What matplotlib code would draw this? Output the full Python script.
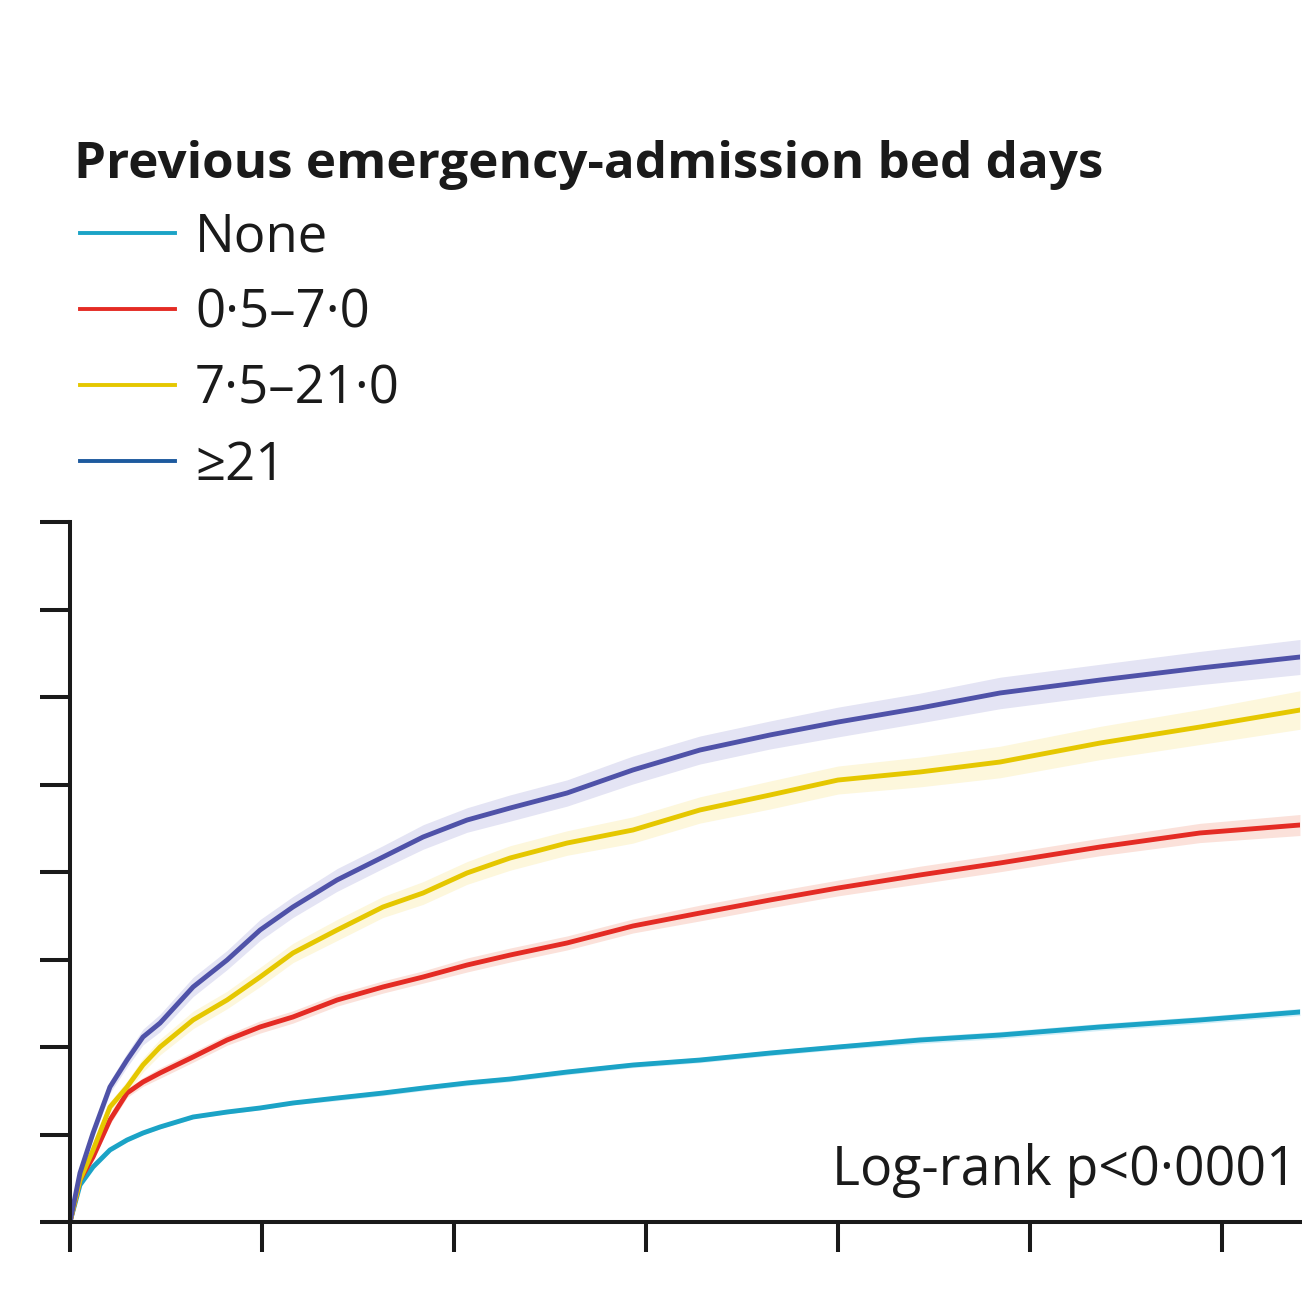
import matplotlib
matplotlib.use("Agg")
import matplotlib.pyplot as plt
from matplotlib.lines import Line2D
import numpy as np

plt.rcParams["font.family"] = ["Open Sans", "DejaVu Sans"]

# time grid (units of one x tick) and cumulative incidence (units of one y tick)
t = [0, 0.052, 0.120, 0.208, 0.297, 0.380, 0.469, 0.641, 0.818, 0.990,
     1.161, 1.391, 1.630, 1.839, 2.068, 2.292, 2.589, 2.932, 3.281, 3.646,
     4.000, 4.427, 4.844, 5.365, 5.885, 6.406]

none_vals = [0, 0.423, 0.629, 0.823, 0.937, 1.017, 1.086, 1.200, 1.257, 1.303,
             1.360, 1.417, 1.474, 1.531, 1.589, 1.634, 1.714, 1.794, 1.851, 1.931,
             2.000, 2.080, 2.137, 2.229, 2.309, 2.400]
low_vals = [0, 0.480, 0.743, 1.166, 1.474, 1.600, 1.703, 1.886, 2.080, 2.229,
            2.343, 2.537, 2.686, 2.800, 2.937, 3.051, 3.189, 3.383, 3.531, 3.680,
            3.817, 3.966, 4.103, 4.286, 4.446, 4.537]
mid_vals = [0, 0.480, 0.823, 1.314, 1.543, 1.794, 2.000, 2.309, 2.537, 2.800,
            3.074, 3.337, 3.600, 3.760, 3.989, 4.160, 4.331, 4.480, 4.709, 4.880,
            5.051, 5.143, 5.257, 5.474, 5.657, 5.851]
high_vals = [0, 0.560, 1.017, 1.543, 1.851, 2.114, 2.274, 2.686, 2.994, 3.337,
             3.600, 3.909, 4.171, 4.400, 4.594, 4.731, 4.903, 5.166, 5.394, 5.566,
             5.714, 5.874, 6.046, 6.194, 6.331, 6.457]

# half width of the confidence band
none_ci = [0, 0.01, 0.01, 0.02, 0.02, 0.02, 0.02, 0.02, 0.02, 0.02,
           0.02, 0.03, 0.03, 0.03, 0.03, 0.03, 0.03, 0.03, 0.03, 0.03,
           0.03, 0.04, 0.04, 0.04, 0.04, 0.04]
low_ci = [0, 0.03, 0.04, 0.05, 0.05, 0.05, 0.06, 0.06, 0.06, 0.07,
          0.07, 0.07, 0.07, 0.07, 0.08, 0.08, 0.08, 0.08, 0.09, 0.09,
          0.09, 0.10, 0.10, 0.10, 0.11, 0.12]
mid_ci = [0, 0.04, 0.05, 0.06, 0.07, 0.08, 0.09, 0.10, 0.10, 0.11,
          0.11, 0.12, 0.12, 0.13, 0.13, 0.14, 0.14, 0.15, 0.15, 0.16,
          0.16, 0.17, 0.18, 0.19, 0.20, 0.22]
high_ci = [0, 0.04, 0.06, 0.07, 0.08, 0.09, 0.10, 0.11, 0.11, 0.12,
           0.12, 0.13, 0.13, 0.14, 0.14, 0.15, 0.15, 0.16, 0.16, 0.16,
           0.17, 0.17, 0.18, 0.18, 0.19, 0.20]

labels = ["None", "0\u00b75\u20137\u00b70", "7\u00b75\u201321\u00b70", "\u226521"]
line_colors = ["#1ba3c6", "#e42b24", "#e5c700", "#4f52a8"]
band_colors = ["#d2eef7", "#fbe1da", "#fdf7dc", "#e4e4f4"]
legend_colors = ["#1ba3c6", "#e42b24", "#e5c700", "#1d5a9e"]

W, H = 1302, 1301
fig = plt.figure(figsize=(W / 100, H / 100), dpi=100)
ax = fig.add_axes([70 / W, 1 - 1222 / H, 1230 / W, 700 / H])

series = [none_vals, low_vals, mid_vals, high_vals]
cis = [none_ci, low_ci, mid_ci, high_ci]
tt = np.array(t)
for vals, ci, bc in zip(series, cis, band_colors):
    v = np.array(vals)
    c = np.array(ci)
    ax.fill_between(tt, v - c, v + c, color=bc, lw=0, zorder=1)
for vals, lc in zip(series, line_colors):
    ax.plot(t, vals, color=lc, lw=3.5, zorder=2, solid_joinstyle="round")

ax.set_xlim(0, 1230 / 192)
ax.set_ylim(0, 8)
ax.set_xticks(range(0, 7))
ax.set_yticks(range(0, 9))
ax.set_xticklabels([])
ax.set_yticklabels([])
ax.tick_params(direction="out", length=21.5, width=2.9, color="#1a1a1a")
for s in ["top", "right"]:
    ax.spines[s].set_visible(False)
for s in ["left", "bottom"]:
    ax.spines[s].set_linewidth(2.9)
    ax.spines[s].set_color("#1a1a1a")
ax.spines["left"].set_bounds(0, 8)

ax.text(1297 / W, 1 - 1185 / H, "Log-rank p<0\u00b70001", transform=fig.transFigure,
        ha="right", va="baseline", fontsize=38.6, color="#1a1a1a")

# legend block
fig.text(74 / W, 1 - 178 / H, "Previous emergency-admission bed days",
         fontsize=36.8, fontweight="bold", color="#1a1a1a", va="baseline")
for i, (lab, col) in enumerate(zip(labels, legend_colors)):
    yc = 233 + 76 * i
    fig.add_artist(Line2D([80 / W, 175 / W], [1 - yc / H, 1 - yc / H],
                          color=col, lw=2.8, transform=fig.transFigure))
    fig.text(195 / W, 1 - (yc + 19) / H, lab, fontsize=38, color="#1a1a1a",
             va="baseline")

fig.savefig("out.png", dpi=100, facecolor="white")
